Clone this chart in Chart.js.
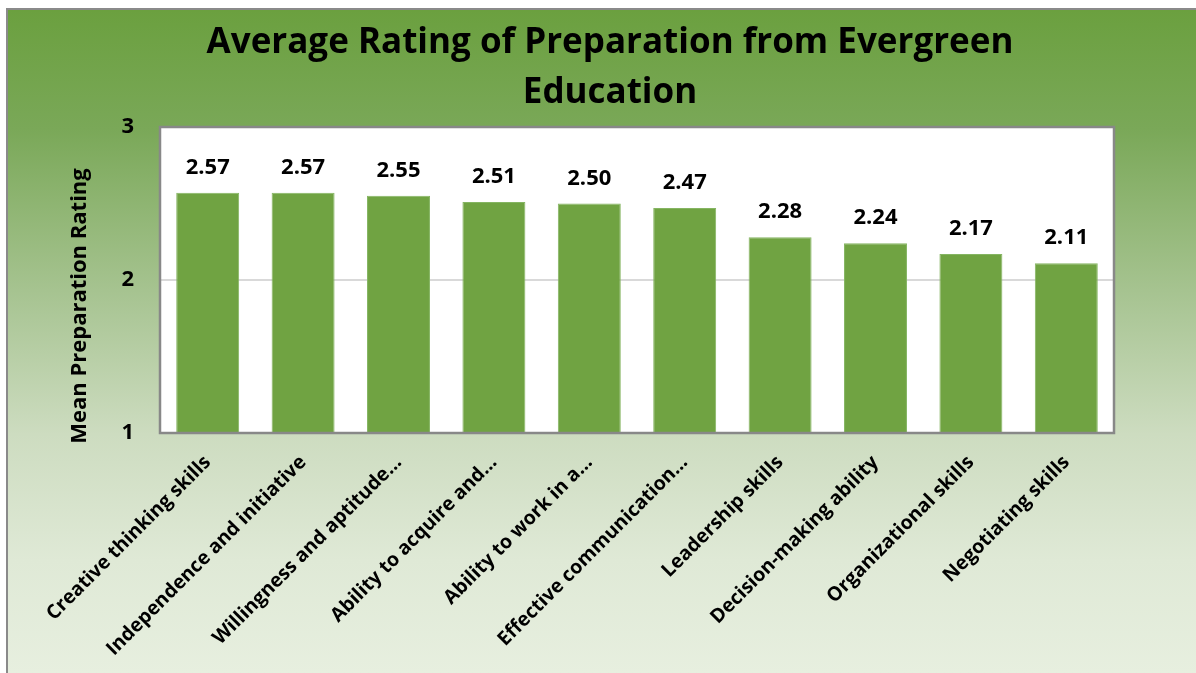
<!DOCTYPE html>
<html>
<head>
<meta charset="utf-8">
<script src="https://cdn.jsdelivr.net/npm/chart.js@4/dist/chart.umd.min.js"></script>
<style>
  html, body { margin: 0; padding: 0; background: #ffffff; }
  #wrap { width: 1196px; height: 673px; position: relative; }
</style>
</head>
<body>
<div id="wrap"><canvas id="c" width="1196" height="673"></canvas></div>
<script>
const chartTitle = ['Average Rating of Preparation from Evergreen', 'Education'];
const yAxisTitle = 'Mean Preparation Rating';
const categories = [
  'Creative thinking skills',
  'Independence and initiative',
  'Willingness and aptitude…',
  'Ability to acquire and…',
  'Ability to work in a…',
  'Effective communication…',
  'Leadership skills',
  'Decision-making ability',
  'Organizational skills',
  'Negotiating skills'
];
const meanRatings = [2.57, 2.57, 2.55, 2.51, 2.50, 2.47, 2.28, 2.24, 2.17, 2.11];
const yTicks = [1, 2, 3];

const FONT = "'Open Sans', Lato, sans-serif";

const backgroundPlugin = {
  id: 'bg',
  beforeDraw(chart) {
    const ctx = chart.ctx;
    const W = chart.width, H = chart.height;
    ctx.save();
    ctx.fillStyle = '#ffffff';
    ctx.fillRect(0, 0, W, H);
    const g = ctx.createLinearGradient(0, 10, 0, H);
    g.addColorStop(0, '#6ba03f');
    g.addColorStop(0.18, '#7aa858');
    g.addColorStop(0.44, '#a9c594');
    g.addColorStop(0.64, '#cddcc0');
    g.addColorStop(0.83, '#dfe9d6');
    g.addColorStop(1, '#e7efdf');
    ctx.fillStyle = g;
    ctx.fillRect(8, 10, W - 8, H - 10);
    ctx.strokeStyle = '#8a8a8a';
    ctx.lineWidth = 2;
    ctx.beginPath();
    ctx.moveTo(7, H + 2);
    ctx.lineTo(7, 9);
    ctx.lineTo(W + 2, 9);
    ctx.stroke();
    const a = chart.chartArea;
    ctx.fillStyle = '#ffffff';
    ctx.fillRect(a.left, a.top, a.right - a.left, a.bottom - a.top);
    ctx.restore();
  },
  afterDatasetsDraw(chart) {
    const ctx = chart.ctx;
    const a = chart.chartArea;
    ctx.save();
    ctx.strokeStyle = '#888888';
    ctx.lineWidth = 2.5;
    ctx.strokeRect(a.left, a.top, a.right - a.left, a.bottom - a.top);
    // data labels
    const meta = chart.getDatasetMeta(0);
    ctx.fillStyle = '#000000';
    ctx.font = "bold 22px " + FONT;
    ctx.textAlign = 'center';
    ctx.textBaseline = 'alphabetic';
    meta.data.forEach((bar, i) => {
      const v = chart.data.datasets[0].data[i];
      ctx.fillText(v.toFixed(2), bar.x, bar.y - 19);
    });
    // y axis title
    ctx.translate(80, 306);
    ctx.rotate(-Math.PI / 2);
    ctx.font = "bold 22px " + FONT;
    ctx.textBaseline = 'middle';
    ctx.fillText(yAxisTitle, 0, 0);
    ctx.restore();
  }
};

new Chart(document.getElementById('c'), {
  type: 'bar',
  data: {
    labels: categories,
    datasets: [{
      data: meanRatings,
      backgroundColor: '#70a342',
      borderColor: '#85b562',
      borderWidth: 1,
      barPercentage: 0.66,
      categoryPercentage: 1.0
    }]
  },
  options: {
    responsive: false,
    animation: false,
    devicePixelRatio: 1,
    layout: { padding: { left: 24, right: 0, top: 0, bottom: 0 } },
    plugins: {
      legend: { display: false },
      tooltip: { enabled: false },
      title: {
        display: true,
        text: chartTitle,
        color: '#000000',
        font: { family: FONT, size: 35, weight: 'bold', lineHeight: '50px' },
        padding: { top: 18, bottom: 9 }
      }
    },
    scales: {
      x: {
        grid: { display: false, drawTicks: false },
        border: { display: false },
        ticks: {
          color: '#000000',
          font: { family: FONT, size: 19.5, weight: 'bold' },
          minRotation: 45,
          maxRotation: 45,
          autoSkip: false,
          padding: 18
        },
        afterFit(s) { s.height = 240; }
      },
      y: {
        min: 1,
        max: 3,
        afterBuildTicks(s) { s.ticks = yTicks.map(v => ({ value: v })); },
        grid: { color: '#d9d9d9', lineWidth: 2, drawTicks: false },
        border: { display: false },
        ticks: {
          color: '#000000',
          font: { family: FONT, size: 22, weight: 'bold' },
          padding: 26
        },
        afterFit(s) { s.width = 136; }
      },
      yRight: {
        position: 'right',
        display: true,
        min: 1,
        max: 3,
        grid: { display: false, drawTicks: false },
        border: { display: false },
        ticks: { display: false },
        afterFit(s) { s.width = 82; }
      }
    }
  },
  plugins: [backgroundPlugin]
});
</script>
</body>
</html>
